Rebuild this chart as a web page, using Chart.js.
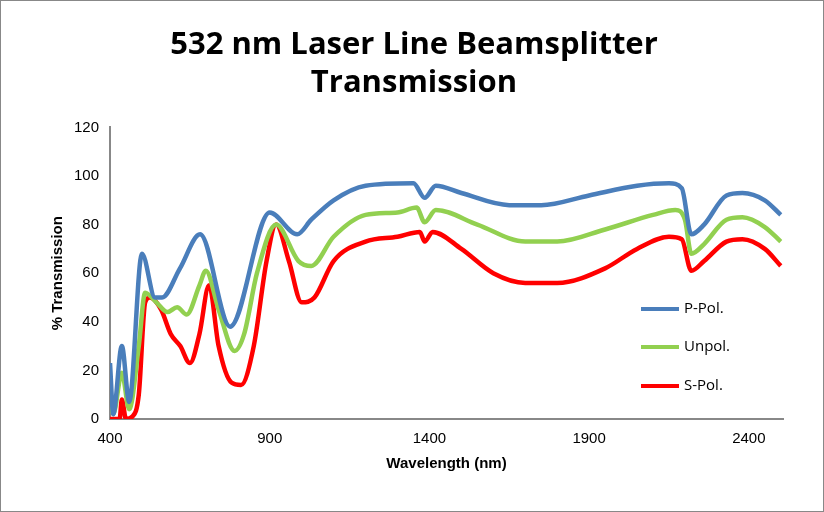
<!DOCTYPE html>
<html><head><meta charset="utf-8">
<script src="https://cdn.jsdelivr.net/npm/chart.js@4"></script>
<style>
body{margin:0;background:#fff;font-family:"Open Sans",sans-serif}
#wrap{position:relative;width:822px;height:510px;border:1px solid #888}
.leg{position:absolute;left:683px;font-size:15px;color:#000}
.sw{position:absolute;left:640px;width:38px;height:4px}
</style></head><body>
<div id="wrap"><canvas id="c" width="822" height="510"></canvas>
<div class="sw" style="top:306px;background:#4a7ebb"></div><div class="leg" style="top:296px">P-Pol.</div>
<div class="sw" style="top:344px;background:#92d050"></div><div class="leg" style="top:334px">Unpol.</div>
<div class="sw" style="top:383px;background:#ff0000"></div><div class="leg" style="top:373px">S-Pol.</div>
</div>
<script>
const pWl = [400,410,437,460,500,541,563,619,682,776,900,986,1030,1100,1200,1350,1385,1420,1500,1650,1750,1900,2050,2150,2190,2220,2260,2330,2380,2450,2500];
const pVal = [23,2,30,7,68,50,50,62,76,38,85,76,82,90,96,97,91,96,93,88,88,92,96,97,95,76,80,92,93,90,84];
const uWl = [400,410,437,460,490,510,545,580,610,640,680,700,740,790,820,860,920,990,1030,1100,1200,1300,1360,1385,1420,1550,1700,1800,1950,2100,2170,2200,2220,2260,2330,2380,2450,2500];
const uVal = [10,2,19,4,30,52,48,44,46,43,55,61,45,28,35,60,80,65,63,75,84,85,87,81,86,80,73,73,78,84,86,82,68,72,82,83,79,73];
const sWl = [400,430,437,450,470,490,510,525,560,590,620,650,680,710,740,780,810,850,890,920,960,1000,1040,1100,1200,1300,1370,1385,1410,1500,1600,1700,1800,1950,2050,2150,2190,2220,2260,2330,2380,2450,2500];
const sVal = [0,0,8,0,1,10,48,50,45,35,30,23,35,55,30,15,14,30,65,80,65,48,50,65,73,75,77,73,77,70,60,56,56,62,70,75,74,61,65,73,74,70,63];
const xTicks = [400,900,1400,1900,2400];

const pts = (xs, ys) => xs.map((x, i) => ({x: x, y: ys[i]}));
const ds = (label, xs, ys, color) => ({label: label, data: pts(xs, ys), borderColor: color, borderWidth: 4.5,
  pointRadius: 0, tension: 0.4, cubicInterpolationMode: 'monotone', fill: false});

new Chart(document.getElementById('c'), {
  type: 'line',
  data: {datasets: [
    ds('P-Pol.', pWl, pVal, '#4a7ebb'),
    ds('Unpol.', uWl, uVal, '#92d050'),
    ds('S-Pol.', sWl, sVal, '#ff0000')
  ]},
  options: {
    responsive: false, animation: false,
    layout: {padding: {top: 14, right: 40, left: 44, bottom: 34}},
    plugins: {
      legend: {display: false}, tooltip: {enabled: false},
      title: {display: true, text: ['532 nm Laser Line Beamsplitter', 'Transmission'],
        font: {size: 31, weight: 'bold', family: 'Open Sans'}, color: '#000', padding: {top: 12, bottom: 26}, lineHeight: 1.4}
    },
    scales: {
      x: {type: 'linear', min: 400, max: 2507,
        afterBuildTicks: a => { a.ticks = xTicks.map(v => ({value: v})); },
        grid: {display: false}, border: {color: '#888', width: 2},
        ticks: {color: '#000', font: {size: 15}, callback: v => String(v)},
        title: {display: true, text: 'Wavelength (nm)', color: '#000', font: {size: 15, weight: 'bold'}}},
      y: {min: 0, max: 120, ticks: {stepSize: 20, color: '#000', font: {size: 15}},
        grid: {display: false}, border: {color: '#888', width: 2},
        title: {display: true, text: '% Transmission', color: '#000', font: {size: 15, weight: 'bold'}}}
    }
  }
});
</script></body></html>
